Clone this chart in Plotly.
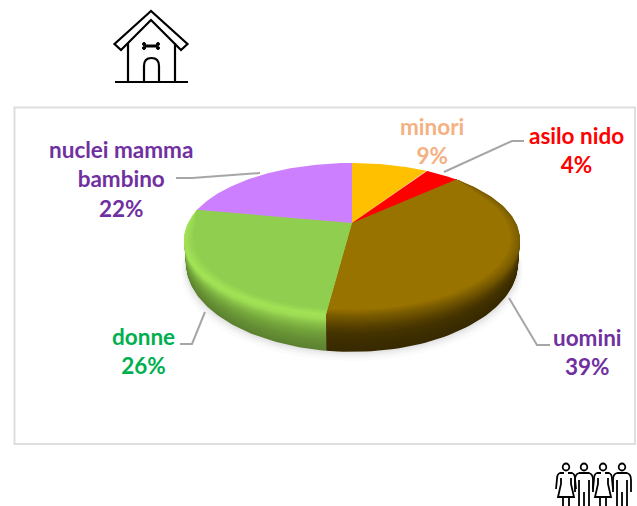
import numpy as np
import plotly.graph_objects as go

categories = ["minori", "asilo nido", "uomini", "donne", "nuclei mamma<br>bambino"]
shares = [9, 4, 39, 26, 22]
slice_colors = ["#FFC000", "#FF0000", "#997300", "#90CE50", "#CC7FFF"]
label_colors = ["#F4B183", "#FF0000", "#7030A0", "#00B050", "#7030A0"]

W, H = 637, 506
CX, CY, A, B, K, DEPTH = 352.0, 223.0, 164.0, 73.0, 0.2157, 22.0
FRAME = "#DEDEDE"
LEADER = "#A6A6A6"

cum = np.cumsum([0] + shares) / sum(shares) * 360.0
wall_stops = {
    2: [(0, "#7a5c00"), (.12, "#6d5200"), (.30, "#574100"), (.5, "#453400"), (.75, "#3d2e00"), (1, "#382a00")],
    3: [(0, "#A2E256"), (.12, "#9EDC54"), (.3, "#86BE47"), (.5, "#73A43C"), (.75, "#668F35"), (1, "#5C8230")],
}
bevel_rim = {2: "#7a5c00", 3: "#A2E256"}


def project(theta, t=0.0, inset=0.0):
    r = np.radians(theta)
    s = 1.0 - inset
    d = 1 + K * s * np.cos(r)
    x = CX + (1 - 0.012 * t) * A * s * np.sin(r) / d
    y = CY - B * s * np.cos(r) / d + DEPTH * t / d ** 2
    return x, y


def mix(a, b, f):
    ca = [int(a[i:i + 2], 16) for i in (1, 3, 5)]
    cb = [int(b[i:i + 2], 16) for i in (1, 3, 5)]
    return "#%02x%02x%02x" % tuple(round(p + (q - p) * f) for p, q in zip(ca, cb))


def stop_color(stops, t):
    for (t0, c0), (t1, c1) in zip(stops, stops[1:]):
        if t <= t1:
            return mix(c0, c1, (t - t0) / (t1 - t0))
    return stops[-1][1]


def sector(i, t=0.0, inset_width=0.0):
    th = np.linspace(cum[i], cum[i + 1], 90)
    front0, front1 = cum[2], cum[4]
    ins = inset_width * np.clip(np.minimum(th - front0, front1 - th) / 12.0, 0, 1)
    x, y = project(th, t, ins)
    a0, a1 = project(np.array([0.0]), t, 1.0)
    return np.r_[a0, x, a0], np.r_[a1, y, a1]


fig = go.Figure()


def add_poly(x, y, color, opacity=1.0):
    fig.add_trace(go.Scatter(x=x, y=y, mode="lines", fill="toself", fillcolor=color,
                             line=dict(width=0), opacity=opacity, hoverinfo="skip", showlegend=False))


# soft shadow under the disc
for grow, alpha in [(9, .03), (6, .05), (4, .06), (2, .08)]:
    th = np.linspace(0, 360, 181)
    x, y = project(th, 1.0)
    add_poly(CX + (x - CX) * (1 + grow / 300), y + grow, "#808080", alpha)

# walls, painted from the bottom upward
LAYERS = 36
for n in range(LAYERS, 0, -1):
    t = n / LAYERS
    for i in (2, 3):
        x, y = sector(i, t)
        add_poly(x, y, stop_color(wall_stops[i], t))

# soft bevel between wall and face
STEPS = 8
for n in range(STEPS + 1):
    f = n / STEPS
    for i in (2, 3):
        x, y = sector(i, 0.0, 0.055 * f)
        add_poly(x, y, mix(bevel_rim[i], slice_colors[i], f))

# remaining top faces
for i in (0, 1, 4):
    x, y = sector(i)
    add_poly(x, y, slice_colors[i])

# labels
label_pos = [(432, 141), (576, 150), (587, 352), (143, 351), (121, 179)]
annotations = []
for cat, v, col, (lx, ly) in zip(categories, shares, label_colors, label_pos):
    annotations.append(dict(x=lx, y=ly, xref="x", yref="y", text=f"{cat}<br>{v}%", showarrow=False,
                            font=dict(family="Lato", size=22.5, color=col, weight="bold"), align="center"))

shapes = [dict(type="rect", x0=14.5, y0=107.5, x1=635, y1=444, xref="x", yref="y", layer="below",
               line=dict(color=FRAME, width=2), fillcolor="white")]


def path(d, width=2.0, color="black", fill=None):
    s = dict(type="path", path=d, xref="x", yref="y", line=dict(color=color, width=width))
    if fill:
        s["fillcolor"] = fill
    return s


# leader lines
for d in ["M444,172 L512,141 L524,141", "M260,173 L192,178 L176,178",
          "M205,312 L192,344 L180,344", "M509,298 L537,345 L550,345"]:
    shapes.append(path(d, 2, LEADER))

# dog-house icon
shapes += [
    path("M151,11 L114.5,44 L121,50 L151,20 L181,50 L187.5,44 Z", 2.2),
    path("M128,43 L128,81", 2.2), path("M175,43 L175,81", 2.2), path("M115,82 L188,82", 2.2),
    path("M144,81 L144,66 Q144,58 151.5,58 Q159,58 159,66 L159,81", 2.2),
    path("M145,46 L157,46", 3),
    dict(type="circle", x0=142.5, x1=145.5, y0=42.5, y1=45.5, xref="x", yref="y", fillcolor="black", line=dict(color="black", width=1)),
    dict(type="circle", x0=142.5, x1=145.5, y0=46.5, y1=49.5, xref="x", yref="y", fillcolor="black", line=dict(color="black", width=1)),
    dict(type="circle", x0=156.5, x1=159.5, y0=42.5, y1=45.5, xref="x", yref="y", fillcolor="black", line=dict(color="black", width=1)),
    dict(type="circle", x0=156.5, x1=159.5, y0=46.5, y1=49.5, xref="x", yref="y", fillcolor="black", line=dict(color="black", width=1)),
]

# people icon
heads = [566, 584, 603, 622]
for n, hx in enumerate(heads):
    shapes.append(dict(type="circle", x0=hx - 3.3, x1=hx + 3.3, y0=463.5, y1=470.5, xref="x", yref="y",
                       line=dict(color="black", width=1.8)))
    if n % 2 == 0:
        shapes.append(path(f"M{hx-2},473 L{hx-6},473 Q{hx-9},474 {hx-9},479 L{hx-10},489 "
                           f"M{hx+2},473 L{hx+6},473 Q{hx+9},474 {hx+9},479 L{hx+10},489 "
                           f"M{hx-5},478 L{hx-5},484 L{hx-8},497 L{hx+8},497 L{hx+5},484 L{hx+5},478 "
                           f"M{hx-3},497 L{hx-3},506 M{hx+3},497 L{hx+3},506", 1.8))
    else:
        shapes.append(path(f"M{hx-5},473 L{hx+5},473 Q{hx+9},474 {hx+9},480 L{hx+9},492 "
                           f"M{hx-5},473 Q{hx-9},474 {hx-9},480 L{hx-9},492 "
                           f"M{hx-5},480 L{hx-5},506 M{hx+5},480 L{hx+5},506 M{hx},492 L{hx},506", 1.8))

fig.update_layout(
    width=W, height=H, margin=dict(l=0, r=0, t=0, b=0), autosize=False,
    paper_bgcolor="white", plot_bgcolor="white", showlegend=False,
    xaxis=dict(range=[0, W], visible=False, fixedrange=True),
    yaxis=dict(range=[H, 0], visible=False, fixedrange=True),
    shapes=shapes, annotations=annotations,
)
fig.write_html("out.html", post_script="document.body.style.margin='0';document.body.style.overflow='hidden';",
               config={"displayModeBar": False})
